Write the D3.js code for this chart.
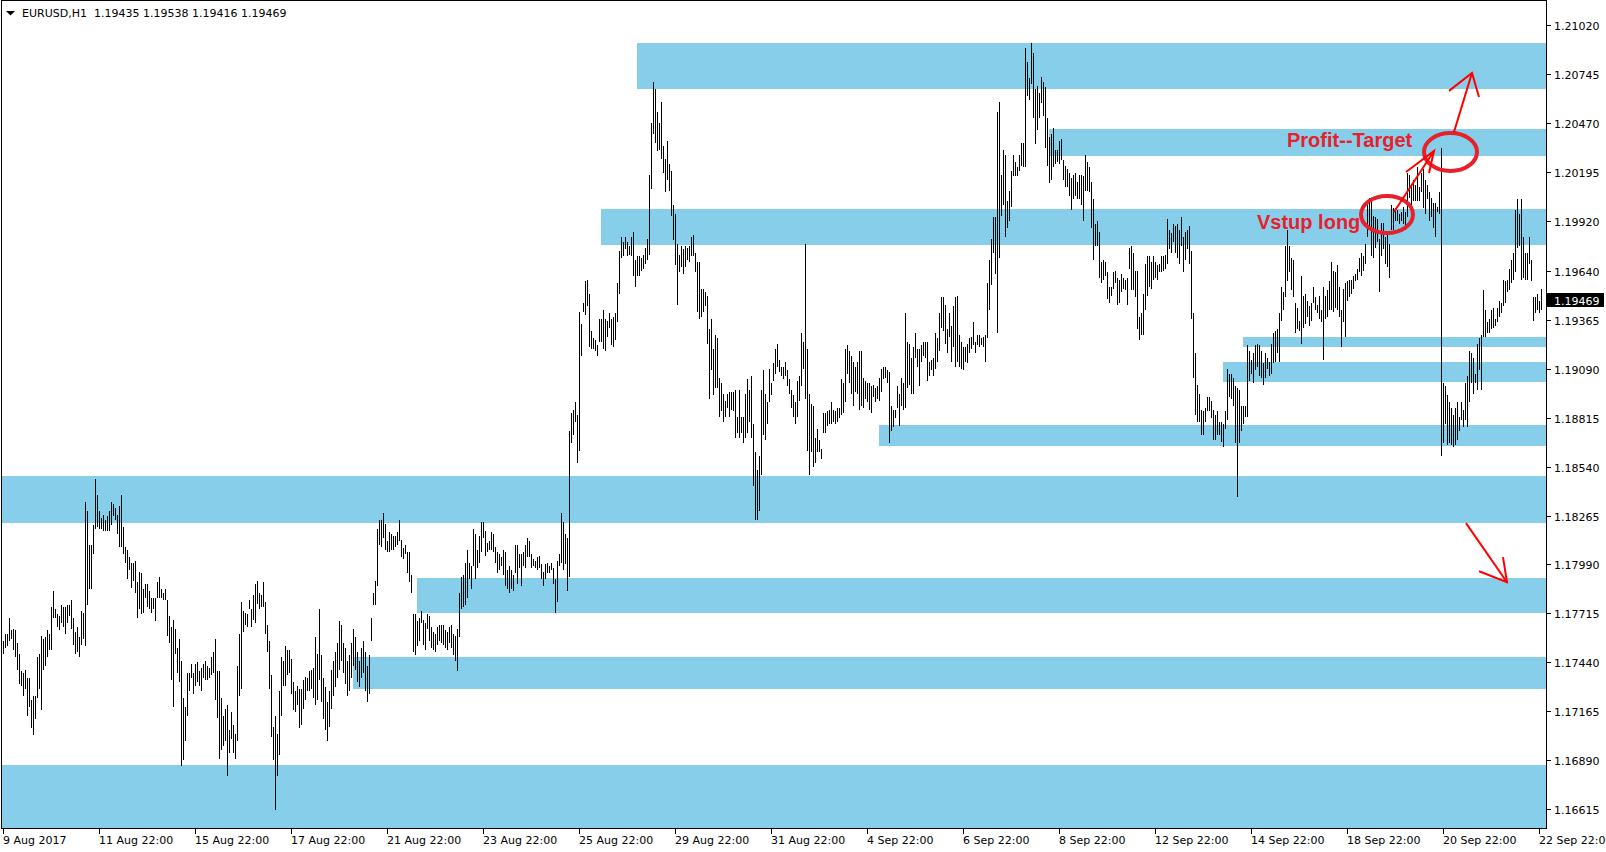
<!DOCTYPE html>
<html><head><meta charset="utf-8">
<script src="https://cdnjs.cloudflare.com/ajax/libs/d3/7.8.5/d3.min.js"></script>
<style>html,body{margin:0;padding:0;background:#fff;overflow:hidden}svg{display:block}</style>
</head><body><svg id="chart" width="1606" height="852"></svg>
<script>
// ---------------- DATA ----------------
const symbolTitle = "EURUSD,H1";
const lastBarOHLC = ["1.19435", "1.19538", "1.19416", "1.19469"];
const lastPrice = 1.19469;
const priceTicks = [1.21020, 1.20745, 1.20470, 1.20195, 1.19920, 1.19640, 1.19365, 1.19090,
  1.18815, 1.18540, 1.18265, 1.17990, 1.17715, 1.17440, 1.17165, 1.16890, 1.16615];
const timeTickLabels = ["9 Aug 2017", "11 Aug 22:00", "15 Aug 22:00", "17 Aug 22:00", "21 Aug 22:00",
  "23 Aug 22:00", "25 Aug 22:00", "29 Aug 22:00", "31 Aug 22:00", "4 Sep 22:00", "6 Sep 22:00",
  "8 Sep 22:00", "12 Sep 22:00", "14 Sep 22:00", "18 Sep 22:00", "20 Sep 22:00", "22 Sep 22:00"];
const barsPerTimeTick = 48;

// hourly bars, [high, low]
const barsAug09to15 = [
[1.1756,1.1749],[1.1760,1.1752],[1.1760,1.1753],[1.1769,1.1756],[1.1762,1.1757],[1.1763,1.1751],[1.1762,1.1747],[1.1755,1.1740],[1.1749,1.1732],[1.1739,1.1731],
[1.1738,1.1725],[1.1740,1.1729],[1.1735,1.1714],[1.1735,1.1719],[1.1723,1.1707],[1.1725,1.1703],[1.1725,1.1712],[1.1747,1.1724],[1.1749,1.1729],[1.1759,1.1717],
[1.1757,1.1740],[1.1758,1.1742],[1.1762,1.1747],[1.1760,1.1751],[1.1775,1.1751],[1.1784,1.1769],[1.1774,1.1769],[1.1771,1.1764],[1.1770,1.1762],[1.1776,1.1766],
[1.1775,1.1764],[1.1775,1.1760],[1.1776,1.1766],[1.1776,1.1770],[1.1779,1.1763],[1.1769,1.1754],[1.1761,1.1749],[1.1764,1.1750],[1.1758,1.1747],[1.1773,1.1754],
[1.1772,1.1757],[1.1834,1.1753],[1.1829,1.1776],[1.1810,1.1785],[1.1810,1.1785],[1.1821,1.1805],[1.1847,1.1819],[1.1838,1.1820],[1.1829,1.1819],[1.1825,1.1819],
[1.1827,1.1818],[1.1824,1.1818],[1.1826,1.1818],[1.1829,1.1818],[1.1834,1.1821],[1.1833,1.1826],[1.1831,1.1824],[1.1827,1.1816],[1.1832,1.1809],[1.1838,1.1809],
[1.1820,1.1805],[1.1809,1.1800],[1.1807,1.1791],[1.1803,1.1796],[1.1800,1.1786],[1.1800,1.1790],[1.1801,1.1783],[1.1789,1.1769],[1.1795,1.1774],[1.1794,1.1771],
[1.1785,1.1772],[1.1788,1.1780],[1.1788,1.1775],[1.1784,1.1774],[1.1780,1.1772],[1.1780,1.1774],[1.1780,1.1767],[1.1789,1.1780],[1.1792,1.1780],[1.1785,1.1780],
[1.1783,1.1779],[1.1785,1.1779],[1.1779,1.1759],[1.1770,1.1755],[1.1764,1.1734],[1.1768,1.1719],[1.1763,1.1749],[1.1752,1.1738],[1.1757,1.1733],[1.1745,1.1686],
[1.1724,1.1689],[1.1719,1.1700],[1.1738,1.1714],[1.1738,1.1728],[1.1743,1.1735],[1.1738,1.1726],[1.1743,1.1731],[1.1744,1.1733],[1.1739,1.1731],[1.1741,1.1728],
[1.1743,1.1735],[1.1745,1.1734],[1.1742,1.1734],[1.1741,1.1735],[1.1747,1.1737],[1.1750,1.1738],[1.1757,1.1723],[1.1739,1.1713],[1.1739,1.1690],[1.1724,1.1695],
[1.1714,1.1697],[1.1718,1.1700],[1.1720,1.1680],[1.1706,1.1693],[1.1716,1.1701],[1.1709,1.1693],[1.1704,1.1690],[1.1742,1.1700],[1.1760,1.1725],[1.1778,1.1729],
[1.1773,1.1761],[1.1772,1.1765],[1.1771,1.1764],[1.1779,1.1774],[1.1774,1.1764],[1.1782,1.1768],[1.1788,1.1766],[1.1790,1.1777],[1.1783,1.1774],[1.1782,1.1775],
[1.1789,1.1775],[1.1778,1.1760],[1.1765,1.1750],[1.1756,1.1729],[1.1737,1.1702],[1.1708,1.1689],[1.1714,1.1661],[1.1704,1.1680],[1.1728,1.1692],[1.1747,1.1714],
[1.1745,1.1731],[1.1753,1.1731],[1.1751,1.1737],[1.1751,1.1738],[1.1746,1.1726],[1.1733,1.1717],[1.1728,1.1716],[1.1731,1.1720],[1.1729,1.1707],[1.1729,1.1709],
[1.1734,1.1718],[1.1736,1.1723],[1.1735,1.1728],[1.1739,1.1728],[1.1740,1.1729],[1.1741,1.1724],[1.1758,1.1720],[1.1749,1.1723],[1.1774,1.1734]
];
const barsAug16to24 = [
[1.1748,1.1722],[1.1735,1.1712],[1.1730,1.1706],[1.1722,1.1700],[1.1728,1.1708],[1.1740,1.1718],[1.1745,1.1725],[1.1750,1.1730],[1.1755,1.1735],[1.1767,1.1740],
[1.1765,1.1745],[1.1755,1.1738],[1.1752,1.1732],[1.1745,1.1725],[1.1748,1.1728],[1.1755,1.1735],[1.1763,1.1742],[1.1758,1.1740],[1.1750,1.1733],[1.1745,1.1730],
[1.1752,1.1735],[1.1756,1.1738],[1.1750,1.1728],[1.1742,1.1722],[1.1748,1.1726],
[1.1769,1.1756],[1.1783,1.1776],[1.1790,1.1776],[1.1819,1.1787],[1.1824,1.1810],[1.1824,1.1809],[1.1828,1.1814],[1.1822,1.1807],[1.1812,1.1806],[1.1817,1.1806],
[1.1816,1.1807],[1.1815,1.1807],[1.1815,1.1809],[1.1817,1.1810],[1.1824,1.1812],[1.1813,1.1803],[1.1808,1.1802],[1.1810,1.1805],[1.1806,1.1794],[1.1806,1.1789],
[1.1793,1.1783],[1.1771,1.1750],[1.1771,1.1748],[1.1767,1.1753],[1.1769,1.1756],[1.1773,1.1766],[1.1768,1.1754],[1.1766,1.1751],[1.1771,1.1763],[1.1770,1.1756],
[1.1764,1.1752],[1.1761,1.1751],[1.1760,1.1750],[1.1764,1.1754],[1.1765,1.1756],[1.1765,1.1755],[1.1765,1.1754],[1.1762,1.1752],[1.1761,1.1751],[1.1764,1.1755],
[1.1765,1.1752],[1.1760,1.1748],[1.1759,1.1745],[1.1763,1.1739],[1.1783,1.1758],[1.1792,1.1774],[1.1793,1.1775],[1.1800,1.1776],[1.1807,1.1780],[1.1800,1.1791],
[1.1798,1.1785],[1.1819,1.1798],[1.1816,1.1791],[1.1807,1.1797],[1.1815,1.1800],[1.1823,1.1806],[1.1823,1.1814],[1.1818,1.1804],[1.1811,1.1806],[1.1812,1.1807],
[1.1817,1.1807],[1.1816,1.1806],[1.1809,1.1800],[1.1806,1.1794],[1.1805,1.1796],[1.1803,1.1798],[1.1807,1.1793],[1.1806,1.1787],[1.1796,1.1785],[1.1798,1.1783],
[1.1796,1.1785],[1.1793,1.1784],[1.1810,1.1794],[1.1810,1.1788],[1.1805,1.1797],[1.1805,1.1787],[1.1806,1.1798],[1.1810,1.1797],[1.1814,1.1803],[1.1812,1.1803],
[1.1805,1.1797],[1.1802,1.1798],[1.1801,1.1797],[1.1803,1.1796],[1.1804,1.1797],[1.1799,1.1791],[1.1795,1.1787],[1.1799,1.1791],[1.1800,1.1794],[1.1798,1.1794],
[1.1800,1.1796],[1.1797,1.1788],[1.1791,1.1772],[1.1801,1.1778],[1.1805,1.1798],[1.1828,1.1800],[1.1823,1.1796],[1.1816,1.1799],[1.1814,1.1784],[1.1874,1.1792],
[1.1884,1.1867],[1.1886,1.1872],[1.1890,1.1879],[1.1883,1.1856],[1.1941,1.1863],[1.1934,1.1916],[1.1946,1.1941],[1.1958,1.1939],[1.1959,1.1944],[1.1951,1.1921],
[1.1930,1.1920],[1.1926,1.1920],[1.1925,1.1919],[1.1922,1.1916],[1.1937,1.1924]
];
const barsAug25toSep01 = [
[1.1937,1.1924],[1.1942,1.1920],[1.1937,1.1919],[1.1936,1.1927],[1.1940,1.1932],[1.1937,1.1922],[1.1938,1.1921],[1.1940,1.1925],[1.1957,1.1935],[1.1975,1.1951],
[1.1983,1.1971],[1.1980,1.1972],[1.1983,1.1976],[1.1980,1.1972],[1.1978,1.1973],[1.1983,1.1972],[1.1986,1.1961],[1.1970,1.1955],[1.1972,1.1961],[1.1972,1.1961],
[1.1971,1.1964],[1.1973,1.1965],[1.1977,1.1968],[1.1982,1.1970],[1.2018,1.1973],[1.2047,1.2010],[1.2070,1.2041],[1.2066,1.2036],[1.2053,1.2031],[1.2047,1.2032],
[1.2059,1.2027],[1.2034,1.2019],[1.2027,1.2008],[1.2037,1.2015],[1.2024,1.2009],[1.2020,1.1995],[1.2001,1.1981],[1.1996,1.1967],[1.1979,1.1945],[1.1973,1.1963],
[1.1978,1.1966],[1.1976,1.1962],[1.1978,1.1966],[1.1977,1.1970],[1.1978,1.1969],[1.1983,1.1972],[1.1984,1.1972],[1.1974,1.1963],[1.1969,1.1941],[1.1969,1.1937],
[1.1954,1.1938],[1.1954,1.1941],[1.1952,1.1944],[1.1950,1.1923],[1.1931,1.1892],[1.1937,1.1908],[1.1920,1.1894],[1.1928,1.1898],[1.1926,1.1898],[1.1904,1.1882],
[1.1901,1.1885],[1.1895,1.1879],[1.1891,1.1882],[1.1895,1.1887],[1.1896,1.1882],[1.1896,1.1886],[1.1896,1.1885],[1.1897,1.1870],[1.1882,1.1873],[1.1897,1.1870],
[1.1882,1.1873],[1.1882,1.1867],[1.1895,1.1870],[1.1903,1.1873],[1.1897,1.1879],[1.1905,1.1870],[1.1878,1.1843],[1.1862,1.1824],[1.1852,1.1824],[1.1860,1.1829],
[1.1897,1.1849],[1.1908,1.1872],[1.1895,1.1869],[1.1890,1.1878],[1.1909,1.1890],[1.1901,1.1894],[1.1912,1.1902],[1.1920,1.1906],[1.1923,1.1910],[1.1914,1.1907],
[1.1910,1.1905],[1.1910,1.1903],[1.1913,1.1905],[1.1908,1.1899],[1.1903,1.1895],[1.1897,1.1887],[1.1894,1.1882],[1.1890,1.1878],[1.1902,1.1882],[1.1905,1.1891],
[1.1929,1.1899],[1.1924,1.1909],[1.1979,1.1892],[1.1920,1.1863],[1.1895,1.1849],[1.1889,1.1862],[1.1888,1.1854],[1.1870,1.1856],[1.1875,1.1862],[1.1869,1.1862],
[1.1864,1.1858],[1.1884,1.1873],[1.1884,1.1873],[1.1885,1.1877],[1.1886,1.1878],[1.1890,1.1878],[1.1886,1.1879],[1.1885,1.1878],[1.1887,1.1879],[1.1887,1.1881],
[1.1903,1.1883],[1.1901,1.1884],[1.1920,1.1890],[1.1922,1.1906],[1.1919,1.1901],[1.1916,1.1895],[1.1913,1.1888],[1.1910,1.1896],[1.1913,1.1895],[1.1919,1.1886],
[1.1919,1.1888],[1.1904,1.1887],[1.1902,1.1892],[1.1901,1.1890],[1.1901,1.1886],[1.1899,1.1884],[1.1900,1.1893],[1.1898,1.1890],[1.1899,1.1892],[1.1904,1.1891],
[1.1909,1.1896],[1.1910,1.1903],[1.1910,1.1904],[1.1908,1.1901],[1.1907,1.1867],[1.1888,1.1874],[1.1886,1.1876],[1.1886,1.1881],[1.1899,1.1887],[1.1895,1.1877]
];
const barsSep04to13 = [
[1.1904,1.1888],[1.1901,1.1886],[1.1940,1.1887],[1.1924,1.1898],[1.1923,1.1900],[1.1915,1.1895],[1.1921,1.1895],[1.1929,1.1915],[1.1920,1.1910],[1.1920,1.1899],
[1.1922,1.1913],[1.1924,1.1916],[1.1924,1.1915],[1.1924,1.1902],[1.1913,1.1905],[1.1914,1.1908],[1.1915,1.1905],[1.1929,1.1909],[1.1926,1.1913],[1.1940,1.1919],
[1.1949,1.1932],[1.1949,1.1930],[1.1945,1.1923],[1.1931,1.1918],[1.1940,1.1927],[1.1933,1.1913],[1.1944,1.1921],[1.1949,1.1910],[1.1950,1.1913],[1.1928,1.1910],
[1.1924,1.1909],[1.1921,1.1908],[1.1921,1.1913],[1.1923,1.1912],[1.1926,1.1918],[1.1927,1.1920],[1.1935,1.1922],[1.1924,1.1918],[1.1928,1.1922],[1.1928,1.1921],
[1.1926,1.1922],[1.1927,1.1921],[1.1928,1.1913],[1.1957,1.1926],[1.1970,1.1942],[1.1982,1.1956],[1.1994,1.1974],[1.1994,1.1962],[1.2053,1.1929],[1.2059,1.1971],
[1.2018,1.1995],[1.2032,1.2001],[1.2029,1.1983],[1.2003,1.1988],[1.2009,1.1992],[1.2020,1.2000],[1.2029,1.2017],[1.2025,1.2017],[1.2022,1.2017],[1.2029,1.2020],
[1.2036,1.2023],[1.2036,1.2022],[1.2089,1.2022],[1.2081,1.2062],[1.2072,1.2060],[1.2092,1.2069],[1.2086,1.2050],[1.2066,1.2035],[1.2068,1.2043],[1.2064,1.2050],
[1.2073,1.2058],[1.2070,1.2051],[1.2067,1.2033],[1.2050,1.2023],[1.2039,1.2013],[1.2041,1.2015],[1.2044,1.2022],[1.2032,1.2024],[1.2032,1.2025],[1.2037,1.2024],
[1.2038,1.2026],[1.2026,1.2015],[1.2023,1.2011],[1.2021,1.2011],[1.2019,1.2006],[1.2016,1.1998],[1.2018,1.2004],[1.2019,1.2006],[1.2014,1.2004],[1.2018,1.2004],
[1.2018,1.2001],[1.2017,1.1992],[1.2029,1.2009],[1.2025,1.2009],[1.2022,1.2008],[1.2014,1.1988],[1.2004,1.1970],[1.1990,1.1978],[1.1992,1.1978],[1.1986,1.1960],
[1.1969,1.1957],[1.1970,1.1959],[1.1969,1.1961],[1.1963,1.1948],[1.1955,1.1946],[1.1955,1.1950],[1.1963,1.1954],[1.1964,1.1957],[1.1960,1.1945],[1.1959,1.1946],
[1.1962,1.1952],[1.1960,1.1954],[1.1959,1.1953],[1.1960,1.1945],[1.1977,1.1965],[1.1978,1.1953],[1.1974,1.1953],[1.1964,1.1949],[1.1964,1.1931],[1.1938,1.1925],
[1.1940,1.1928],[1.1951,1.1928],[1.1968,1.1942],[1.1972,1.1950],[1.1972,1.1955],[1.1969,1.1954],[1.1972,1.1959],[1.1969,1.1960],[1.1967,1.1959],[1.1968,1.1963],
[1.1972,1.1963],[1.1972,1.1964],[1.1973,1.1965],[1.1993,1.1968],[1.1987,1.1976],[1.1985,1.1974],[1.1990,1.1980],[1.1989,1.1974],[1.1990,1.1971],[1.1987,1.1968],
[1.1994,1.1978],[1.1983,1.1963],[1.1986,1.1970],[1.1987,1.1976],[1.1989,1.1968],[1.1975,1.1937],[1.1940,1.1904],[1.1918,1.1883],[1.1900,1.1879],[1.1895,1.1879],
[1.1886,1.1872],[1.1885,1.1872],[1.1887,1.1879],[1.1893,1.1885],[1.1893,1.1885],[1.1891,1.1881],[1.1886,1.1869],[1.1883,1.1869]
];
const barsSep13to22 = [
[1.1885,1.1872],[1.1879,1.1872],[1.1879,1.1868],[1.1878,1.1865],[1.1885,1.1875],[1.1909,1.1880],[1.1906,1.1893],[1.1906,1.1892],[1.1904,1.1888],[1.1899,1.1867],
[1.1898,1.1837],[1.1897,1.1867],[1.1888,1.1874],[1.1888,1.1878],[1.1888,1.1882],[1.1922,1.1882],[1.1919,1.1902],[1.1914,1.1906],[1.1918,1.1901],[1.1922,1.1908],
[1.1923,1.1910],[1.1922,1.1905],[1.1919,1.1904],[1.1912,1.1900],[1.1918,1.1904],[1.1915,1.1909],[1.1913,1.1905],[1.1923,1.1906],[1.1929,1.1912],[1.1930,1.1913],
[1.1931,1.1918],[1.1940,1.1913],[1.1955,1.1936],[1.1952,1.1942],[1.1978,1.1949],[1.1987,1.1958],[1.1978,1.1963],[1.1971,1.1953],[1.1970,1.1949],[1.1946,1.1929],
[1.1943,1.1931],[1.1936,1.1930],[1.1961,1.1923],[1.1950,1.1932],[1.1951,1.1934],[1.1947,1.1938],[1.1944,1.1933],[1.1946,1.1936],[1.1955,1.1946],[1.1949,1.1942],
[1.1945,1.1940],[1.1950,1.1937],[1.1942,1.1935],[1.1955,1.1914],[1.1950,1.1937],[1.1953,1.1938],[1.1958,1.1942],[1.1969,1.1942],[1.1964,1.1941],[1.1963,1.1943],
[1.1967,1.1942],[1.1955,1.1938],[1.1942,1.1921],[1.1954,1.1935],[1.1957,1.1927],[1.1958,1.1947],[1.1959,1.1949],[1.1959,1.1951],[1.1961,1.1954],[1.1962,1.1958],
[1.1965,1.1959],[1.1971,1.1963],[1.1974,1.1961],[1.1972,1.1964],[1.1979,1.1968],[1.2001,1.1983],[1.2005,1.1987],[1.2005,1.1972],[1.1995,1.1971],[1.1994,1.1977],
[1.1993,1.1980],[1.1982,1.1952],[1.1991,1.1972],[1.1991,1.1976],[1.1983,1.1968],[1.1985,1.1966],[1.1979,1.1960],[1.2001,1.1987],[1.1999,1.1987],[1.1999,1.1992],
[1.1998,1.1992],[1.1996,1.1990],[1.1997,1.1992],[1.2000,1.1990],[1.1997,1.1987],[1.2019,1.1994],[1.2018,1.2005],[1.2012,1.1999],[1.2015,1.2003],[1.2012,1.2003],
[1.2022,1.2003],[1.2011,1.2003],[1.2019,1.2008],[1.2021,1.1999],[1.2015,1.1996],[1.2012,1.2004],[1.2008,1.1992],[1.2005,1.1994],[1.2002,1.1988],[1.2002,1.1983],
[1.2000,1.1997],[1.2008,1.1996],[1.2033,1.1860],[1.1901,1.1867],[1.1899,1.1878],[1.1894,1.1866],[1.1890,1.1867],[1.1887,1.1866],[1.1883,1.1865],[1.1887,1.1866],
[1.1890,1.1869],[1.1882,1.1874],[1.1890,1.1880],[1.1886,1.1876],[1.1901,1.1880],[1.1905,1.1876],[1.1919,1.1890],[1.1918,1.1901],[1.1915,1.1895],[1.1906,1.1901],
[1.1923,1.1897],[1.1926,1.1908],[1.1928,1.1897],[1.1953,1.1927],[1.1942,1.1927],[1.1935,1.1929],[1.1937,1.1929],[1.1942,1.1931],[1.1943,1.1932],[1.1937,1.1933],
[1.1943,1.1935],[1.1947,1.1938],[1.1946,1.1940],[1.1959,1.1944],[1.1958,1.1946],[1.1959,1.1952],[1.1965,1.1953],[1.1970,1.1957],[1.1974,1.1959],[1.1998,1.1963],
[1.2004,1.1977],[1.1996,1.1978],[1.2004,1.1959],[1.1983,1.1960],[1.1974,1.1959],[1.1974,1.1959],[1.1983,1.1968],[1.1970,1.1958],[1.1949,1.1936],[1.1949,1.1940],
[1.1951,1.1942],[1.1947,1.1940],[1.1954,1.1942]
];

// supply/demand zones: first bar index (null = from left edge), top price, bottom price
const zoneStart  = [317, 523, 299, 620, 610, 438, null, 207, 175, null];
const zoneTop    = [1.20918, 1.20436, 1.19986, 1.19267, 1.19127, 1.18772, 1.18486, 1.17913, 1.17469, 1.16862];
const zoneBottom = [1.20661, 1.20284, 1.19784, 1.19211, 1.19014, 1.18654, 1.18222, 1.17716, 1.17289, 1.16450];

// annotations in (bar index, price)
const labelTexts = ["Vstup long", "Profit--Target"];
const labelAnchors = [[626.75, 1.19874], [641.75, 1.20335]];
const ellipseBoxes = [[677.75, 705.75, 1.20071, 1.19840], [709.25, 737.75, 1.20425, 1.20189]];
const arrowPaths = [
  [[695.25, 1.19970], [715.25, 1.20312]],
  [[701.25, 1.20194], [715.25, 1.20312], [712.75, 1.20189]],
  [[725.25, 1.20419], [734.25, 1.20751]],
  [[722.75, 1.20650], [734.25, 1.20751], [737.75, 1.20616]],
  [[731.25, 1.18222], [751.75, 1.17890]],
  [[737.75, 1.17952], [751.75, 1.17890], [749.75, 1.18031]]
];

// ---------------- DRAW ----------------
const hourlyBars = [].concat(barsAug09to15, barsAug16to24, barsAug25toSep01, barsSep04to13, barsSep13to22);
const W = 1606, H = 852;
const plotL = 2, plotR = 1546, plotT = 1, plotB = 828;
const svg = d3.select("#chart");
const FONT = "'DejaVu Sans', Verdana, sans-serif";

const x = d3.scaleLinear().domain([0, hourlyBars.length - 1]).range([3.5, 3.5 + 2 * (hourlyBars.length - 1)]);
const y = d3.scaleLinear().domain([1.16615, 1.21020]).range([809.3, 25]);

svg.append("rect").attr("width", W).attr("height", H).attr("fill", "#fff");
svg.append("clipPath").attr("id", "plotclip").append("rect")
  .attr("x", plotL).attr("y", plotT).attr("width", plotR - plotL).attr("height", plotB - plotT);
const plot = svg.append("g").attr("clip-path", "url(#plotclip)");

// zones
const zones = zoneTop.map((t, i) => ({start: zoneStart[i], top: t, bottom: zoneBottom[i]}));
plot.selectAll("rect.zone").data(zones).join("rect").attr("class", "zone")
  .attr("x", d => d.start === null ? plotL : x(d.start) - 0.5)
  .attr("y", d => Math.round(y(d.top)))
  .attr("width", d => plotR - (d.start === null ? plotL : x(d.start) - 0.5))
  .attr("height", d => Math.round(y(d.bottom)) - Math.round(y(d.top)))
  .attr("fill", "#87ceeb").attr("shape-rendering", "crispEdges");

// bars
plot.selectAll("line.bar").data(hourlyBars).join("line").attr("class", "bar")
  .attr("x1", (d, i) => x(i)).attr("x2", (d, i) => x(i))
  .attr("y1", d => Math.round(y(d[0])))
  .attr("y2", d => Math.max(Math.round(y(d[1])), Math.round(y(d[0])) + 2))
  .attr("stroke", "#000").attr("stroke-width", 1).attr("shape-rendering", "crispEdges");

// frame & axes
svg.append("path").attr("d", `M${plotL - 0.5},${plotB + 0.5}V0.5H${plotR + 0.5}V${plotB + 0.5}H${plotL - 0.5}`)
  .attr("fill", "none").attr("stroke", "#000").attr("stroke-width", 1).attr("shape-rendering", "crispEdges");

const yAxisG = svg.append("g");
priceTicks.forEach(p => {
  const yy = Math.round(y(p)) + 0.5;
  yAxisG.append("line").attr("x1", plotR + 1).attr("x2", plotR + 5).attr("y1", yy).attr("y2", yy)
    .attr("stroke", "#000").attr("shape-rendering", "crispEdges");
  yAxisG.append("text").attr("x", 1554).attr("y", yy + 4).attr("font-family", FONT).attr("font-size", 11)
    .attr("fill", "#000").text(p.toFixed(5));
});
// current price box
const yp = Math.round(y(lastPrice));
svg.append("rect").attr("x", plotR + 1).attr("y", yp - 8).attr("width", 57).attr("height", 14).attr("fill", "#000");
svg.append("text").attr("x", 1554).attr("y", yp + 3.5).attr("font-family", FONT).attr("font-size", 11)
  .attr("fill", "#fff").text(lastPrice.toFixed(5));

const xAxisG = svg.append("g");
timeTickLabels.forEach((lab, k) => {
  const xx = x(k * barsPerTimeTick);
  xAxisG.append("line").attr("x1", xx).attr("x2", xx).attr("y1", plotB + 1).attr("y2", plotB + 6)
    .attr("stroke", "#000").attr("shape-rendering", "crispEdges");
  xAxisG.append("text").attr("x", Math.round(xx) - 1).attr("y", 844).attr("font-family", FONT).attr("font-size", 11)
    .attr("fill", "#000").text(lab);
});

// header
svg.append("path").attr("d", "M6,11H15L10.5,15.5Z").attr("fill", "#000");
svg.append("text").attr("x", 22).attr("y", 17).attr("font-family", FONT).attr("font-size", 11).attr("fill", "#000").text(symbolTitle);
svg.append("text").attr("x", 94).attr("y", 17).attr("font-family", FONT).attr("font-size", 11).attr("fill", "#000").text(lastBarOHLC.join(" "));

// annotations
const ann = svg.append("g");
ellipseBoxes.forEach(b => {
  const x0 = x(b[0]), x1 = x(b[1]), y0 = y(b[2]), y1 = y(b[3]);
  ann.append("ellipse").attr("cx", (x0 + x1) / 2).attr("cy", (y0 + y1) / 2)
    .attr("rx", (x1 - x0) / 2 - 2).attr("ry", (y1 - y0) / 2 - 2)
    .attr("fill", "none").attr("stroke", "#e8202a").attr("stroke-width", 4);
});
const line = d3.line().x(d => x(d[0])).y(d => y(d[1]));
arrowPaths.forEach(pts => {
  ann.append("path").attr("d", line(pts)).attr("fill", "none").attr("stroke", "#ff0000")
    .attr("stroke-width", 2).attr("stroke-linejoin", "miter");
});
labelTexts.forEach((t, i) => {
  ann.append("text").attr("x", x(labelAnchors[i][0])).attr("y", y(labelAnchors[i][1]))
    .attr("font-family", "'Liberation Sans', Arial, sans-serif").attr("font-weight", "bold")
    .attr("font-size", 20).attr("fill", "#e8202a").text(t);
});
</script></body></html>
